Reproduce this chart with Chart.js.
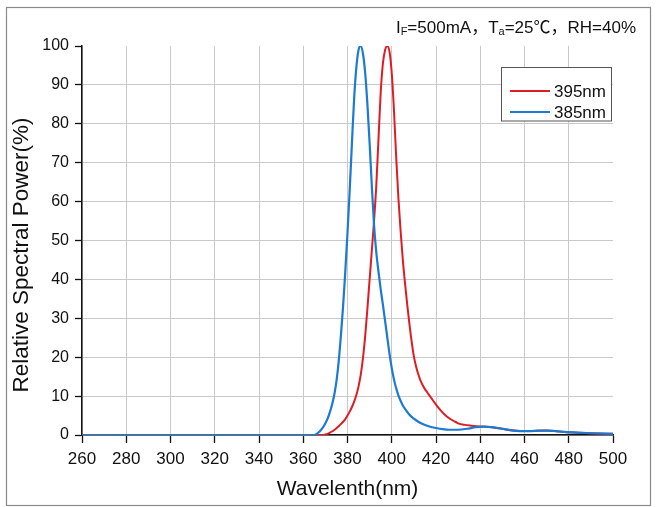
<!DOCTYPE html>
<html>
<head>
<meta charset="utf-8">
<title>Relative Spectral Power</title>
<script src="https://cdn.jsdelivr.net/npm/chart.js@4.4.1/dist/chart.umd.min.js"></script>
<style>
  html, body { margin: 0; padding: 0; background: #fff; }
  #wrap { width: 659px; height: 507px; position: relative; }
</style>
</head>
<body>
<div id="wrap"><canvas id="spectrumChart"></canvas></div>
<script>
"use strict";

// tick labels
var xTicks = [260, 280, 300, 320, 340, 360, 380, 400, 420, 440, 460, 480, 500];
var yTicks = [0, 10, 20, 30, 40, 50, 60, 70, 80, 90, 100];

// series labels
var seriesNames = ['395nm', '385nm'];

// 395nm curve
var nm395 = [260, 369, 370, 371, 372, 373, 374, 375, 376, 377, 378, 379, 380, 381, 382, 383, 384,
  385, 386, 387, 388, 389, 390, 391, 392, 393, 394, 395, 396, 397, 398, 399, 400, 401, 402,
  403, 404, 405, 406, 407, 408, 409, 410, 411, 412, 413, 414, 415, 416, 417, 418, 420, 422,
  424, 426, 428, 430, 433, 436, 440, 442, 446, 450, 454, 458, 462, 466, 470, 474, 478, 484,
  490, 500];
var power395 = [0, 0, 0.15, 0.3, 0.6, 0.9, 1.3, 1.75, 2.25, 2.8, 3.4, 4.1, 5.0, 6.0, 7.2, 8.6, 10.3,
  12.5, 15.5, 19.8, 25.5, 32.5, 40, 47.5, 55, 64, 76, 88, 95.5, 99, 100, 98.5, 93, 83.5, 71.5,
  61, 52.5, 45, 39, 33.5, 28.5, 24, 20.2, 17.6, 15.6, 14, 12.8, 11.8, 11, 10.2, 9.4, 7.8, 6.4,
  5.2, 4.3, 3.6, 3.0, 2.6, 2.4, 2.2, 2.15, 1.95, 1.6, 1.2, 1.0, 1.0, 1.1, 1.15, 1.0, 0.8, 0.6,
  0.45, 0.3];

// 385nm curve
var nm385 = [260, 364, 365, 366, 367, 368, 369, 370, 371, 372, 373, 374, 375, 376, 377, 378, 379,
  380, 381, 382, 383, 384, 385, 386, 387, 388, 389, 390, 391, 392, 393, 394, 395, 396, 397,
  398, 399, 400, 401, 402, 403, 404, 405, 406, 408, 410, 412, 414, 417, 420, 423, 426, 430,
  434, 438, 442, 446, 450, 454, 458, 462, 466, 470, 474, 478, 484, 490, 500];
var power385 = [0, 0, 0, 0.25, 0.7, 1.3, 2.0, 3.0, 4.2, 5.8, 7.8, 10.3, 13.8, 18.8, 25.5, 33, 42,
  52, 63, 75, 86.5, 94.5, 99, 100, 98, 93, 85, 75, 64, 54, 47, 42, 37.5, 33.5, 29.3,
  25, 20.8, 17.2, 14.3, 12, 10.2, 8.8, 7.6, 6.7, 5.2, 4.2, 3.4, 2.8, 2.2, 1.8, 1.5, 1.35, 1.35,
  1.6, 2.0, 2.15, 1.95, 1.6, 1.2, 1.0, 1.0, 1.1, 1.15, 1.0, 0.8, 0.6, 0.45, 0.3];

var headerParts = [['I', 0], ['F', 1], ['=500mA\uFF0CT', 0], ['a', 1], ['=25\u2103\uFF0CRH=40%', 0]];
var yTitle = 'Relative Spectral Power(%)';
var xTitle = 'Wavelenth(nm)';

var FONT = '"Liberation Sans", Arial, "Noto Sans CJK SC", sans-serif';
Chart.defaults.font.family = FONT;
Chart.defaults.color = '#111';

function toPoints(xs, ys) {
  return xs.map(function (x, i) { return { x: x, y: ys[i] }; });
}

var framePlugin = {
  id: 'frame',
  beforeDraw: function (chart) {
    var ctx = chart.ctx;
    ctx.save();
    ctx.fillStyle = '#fff';
    ctx.fillRect(0, 0, chart.width, chart.height);
    ctx.strokeStyle = '#8a8a8a';
    ctx.lineWidth = 1.2;
    ctx.strokeRect(6.5, 7.5, 644, 498);
    ctx.restore();
  }
};

var extrasPlugin = {
  id: 'extras',
  afterDraw: function (chart) {
    var ctx = chart.ctx;
    ctx.save();

    // y axis title
    ctx.translate(22, 255);
    ctx.rotate(-Math.PI / 2);
    ctx.font = '22.5px ' + FONT;
    ctx.fillStyle = '#111';
    ctx.textAlign = 'center';
    ctx.textBaseline = 'middle';
    ctx.fillText(yTitle, 0, 0);
    ctx.setTransform(1, 0, 0, 1, 0, 0);

    // header with subscripts
    var big = '17px ' + FONT, small = '11px ' + FONT;
    var total = 0;
    headerParts.forEach(function (p) {
      ctx.font = p[1] ? small : big;
      total += ctx.measureText(p[0]).width;
    });
    var x = 636 - total;
    ctx.textAlign = 'left';
    ctx.textBaseline = 'alphabetic';
    headerParts.forEach(function (p) {
      ctx.font = p[1] ? small : big;
      ctx.fillText(p[0], x, p[1] ? 35 : 33);
      x += ctx.measureText(p[0]).width;
    });

    // legend box
    ctx.fillStyle = '#fff';
    ctx.fillRect(501.5, 67.5, 110, 53.5);
    ctx.strokeStyle = '#555';
    ctx.lineWidth = 1;
    ctx.strokeRect(501.5, 67.5, 110, 53.5);
    ctx.font = '17px ' + FONT;
    ctx.textBaseline = 'middle';
    chart.data.datasets.forEach(function (ds, i) {
      var y = 91 + i * 21;
      ctx.strokeStyle = ds.borderColor;
      ctx.lineWidth = 2;
      ctx.beginPath();
      ctx.moveTo(510, y);
      ctx.lineTo(550, y);
      ctx.stroke();
      ctx.fillStyle = '#111';
      ctx.fillText(ds.label, 554, y + 1);
    });
    ctx.restore();
  }
};

function gridColor(hidden) {
  return function (c) {
    return (c.tick && c.tick.value === hidden) ? 'rgba(0,0,0,0)' : '#c9c9c9';
  };
}

var ctx = document.getElementById('spectrumChart').getContext('2d');
var spectrumChart = new Chart(ctx, {
  type: 'line',
  data: {
    datasets: [
      {
        label: seriesNames[0],
        data: toPoints(nm395, power395),
        borderColor: 'rgb(222, 28, 36)',
        borderWidth: 2,
        pointRadius: 0,
        cubicInterpolationMode: 'monotone',
        order: 1
      },
      {
        label: seriesNames[1],
        data: toPoints(nm385, power385),
        borderColor: 'rgb(28, 122, 210)',
        borderWidth: 2.2,
        pointRadius: 0,
        cubicInterpolationMode: 'monotone',
        order: 0
      }
    ]
  },
  options: {
    responsive: true,
    maintainAspectRatio: false,
    animation: false,
    layout: { padding: { left: 0, right: 46, top: 46, bottom: 0 } },
    plugins: {
      legend: { display: false },
      tooltip: { enabled: false }
    },
    scales: {
      x: {
        type: 'linear',
        min: 260,
        max: 500,
        afterBuildTicks: function (scale) {
          scale.ticks = xTicks.map(function (v) { return { value: v }; });
        },
        afterFit: function (scale) { scale.height = 72; },
        grid: { color: gridColor(500), lineWidth: 1, tickLength: 8, tickColor: '#111', tickWidth: 1.3 },
        border: { color: '#111', width: 1.5 },
        ticks: { font: { size: 17 }, padding: 6, maxRotation: 0, autoSkip: false, color: '#111' },
        title: { display: true, text: xTitle, font: { size: 21 }, color: '#111', padding: { top: 0, bottom: 5 } }
      },
      y: {
        min: 0,
        max: 100,
        afterBuildTicks: function (scale) {
          scale.ticks = yTicks.map(function (v) { return { value: v }; });
        },
        afterFit: function (scale) { scale.width = 82; },
        grid: { color: gridColor(100), lineWidth: 1, tickLength: 7, tickColor: '#111', tickWidth: 1.3 },
        border: { color: '#111', width: 1.5 },
        ticks: { font: { size: 16 }, padding: 6, color: '#111' }
      }
    }
  },
  plugins: [framePlugin, extrasPlugin]
});
</script>
</body>
</html>
